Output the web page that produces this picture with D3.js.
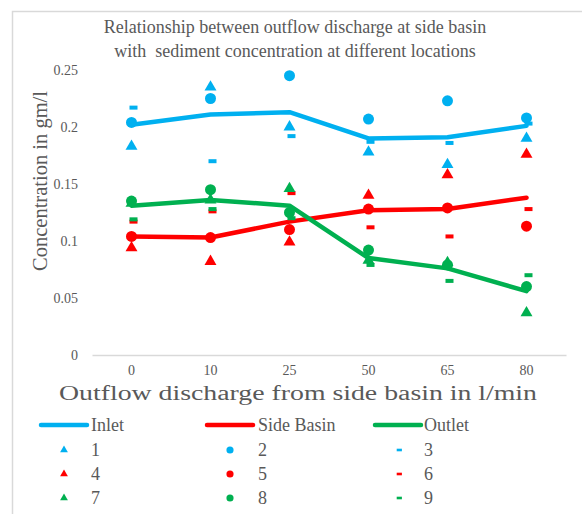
<!DOCTYPE html>
<html><head><meta charset="utf-8">
<script src="https://cdn.jsdelivr.net/npm/d3@7"></script>
<style>
body{margin:0;background:#fff;}
text{font-family:"Liberation Serif","Times New Roman",serif;fill:#595959;}
</style></head>
<body><svg id="c" width="582" height="514"></svg>
<script>
const categories = ["0","10","25","50","65","80"];
const inlet = [0.202, 0.211, 0.213, 0.190, 0.191, 0.201];
const sideBasin = [0.104, 0.103, 0.117, 0.127, 0.128, 0.138];
const outlet = [0.131, 0.136, 0.131, 0.085, 0.076, 0.056];
const s1 = [0.183, 0.235, 0.200, 0.178, 0.167, 0.190];
const s2 = [0.204, 0.225, 0.245, 0.207, 0.223, 0.208];
const s3 = [0.217, 0.170, 0.192, 0.187, 0.186, 0.203];
const s4 = [0.094, 0.082, 0.099, 0.140, 0.158, 0.176];
const s5 = [0.104, 0.103, 0.110, 0.128, 0.129, 0.113];
const s6 = [0.117, 0.126, 0.142, 0.112, 0.104, 0.128];
const s7 = [0.133, 0.136, 0.146, 0.083, 0.081, 0.037];
const s8 = [0.135, 0.145, 0.125, 0.092, 0.079, 0.060];
const s9 = [0.119, 0.128, 0.120, 0.079, 0.065, 0.070];
const yTicks = [0, 0.05, 0.1, 0.15, 0.2, 0.25];
const yTickLabels = ["0", "0.05", "0.1", "0.15", "0.2", "0.25"];
const titleLines = ["Relationship between outflow discharge at side basin", "with  sediment concentration at different locations"];
const xTitle = "Outflow discharge from side basin in l/min";
const yTitle = "Concentration in gm/l";

const BLUE = "#00B0F0", RED = "#FF0000", GREEN = "#00B050";
const lineSeries = [
  {name: "Inlet", values: inlet, color: BLUE},
  {name: "Side Basin", values: sideBasin, color: RED},
  {name: "Outlet", values: outlet, color: GREEN}
];
const markerSeries = [
  {name: "1", values: s1, color: BLUE, shape: "tri"},
  {name: "2", values: s2, color: BLUE, shape: "circ"},
  {name: "3", values: s3, color: BLUE, shape: "dash"},
  {name: "4", values: s4, color: RED, shape: "tri"},
  {name: "5", values: s5, color: RED, shape: "circ"},
  {name: "6", values: s6, color: RED, shape: "dash"},
  {name: "7", values: s7, color: GREEN, shape: "tri"},
  {name: "8", values: s8, color: GREEN, shape: "circ"},
  {name: "9", values: s9, color: GREEN, shape: "dash"}
];

const svg = d3.select("#c");
svg.append("rect").attr("x",0).attr("y",0).attr("width",582).attr("height",514).attr("fill","#fff");
svg.append("rect").attr("x",12.5).attr("y",11.5).attr("width",600).attr("height",600)
  .attr("fill","none").attr("stroke","#d9d9d9").attr("stroke-width",1.5);

const x = d3.scaleBand().domain(categories).range([92, 566]);
const y = d3.scaleLinear().domain([0, 0.25]).range([355, 70]);
const cx = c => x(c) + x.bandwidth()/2;

// title
const t = svg.append("text").attr("text-anchor","middle").style("font-size","18px");
titleLines.forEach((l,i)=>t.append("tspan").attr("x",295).attr("y",33 + i*24).attr("xml:space","preserve").text(l));

// y axis
const ya = svg.append("g").attr("transform","translate(92,0)")
  .call(d3.axisLeft(y).tickValues(yTicks).tickSize(0).tickPadding(14).tickFormat((d,i)=>yTickLabels[i]));
ya.select(".domain").remove();
ya.selectAll("text").style("font-size","14px").style("font-family","Liberation Serif").attr("fill","#595959");

// x axis
const xa = svg.append("g").attr("transform","translate(0,355)")
  .call(d3.axisBottom(x).tickSize(0).tickPadding(10));
xa.select(".domain").attr("stroke","#d9d9d9").attr("stroke-width",1.5);
xa.selectAll("text").style("font-size","14px").style("font-family","Liberation Serif").attr("fill","#595959");

// axis titles
svg.append("text").attr("x",298).attr("y",400).attr("text-anchor","middle").style("font-size","20px")
  .attr("textLength",478).attr("lengthAdjust","spacingAndGlyphs").text(xTitle);
svg.append("text").attr("transform","translate(47,181) rotate(-90)").attr("text-anchor","middle").style("font-size","20.5px").text(yTitle);

// lines
const line = d3.line().x((d,i)=>cx(categories[i])).y(d=>y(d));
lineSeries.forEach(s=>{
  svg.append("path").datum(s.values).attr("d",line).attr("fill","none")
    .attr("stroke",s.color).attr("stroke-width",4.5).attr("stroke-linejoin","round").attr("stroke-linecap","round");
});

function drawMarker(g, shape, px, py, color, scale){
  if(shape==="tri"){
    g.append("path").attr("d", d3.symbol(d3.symbolTriangle, 62*scale*scale)()).attr("transform",`translate(${px},${py})`).attr("fill",color);
  } else if(shape==="circ"){
    g.append("path").attr("d", d3.symbol(d3.symbolCircle, 95*scale*scale)()).attr("transform",`translate(${px},${py})`).attr("fill",color);
  } else {
    const w = 8*scale, h = 4*scale;
    g.append("rect").attr("x",px - w/2 + 2*scale).attr("y",py - h/2).attr("width",w).attr("height",h).attr("fill",color);
  }
}
const mg = svg.append("g");
markerSeries.forEach(s=>{
  s.values.forEach((v,i)=>drawMarker(mg, s.shape, cx(categories[i]), y(v), s.color, 1));
});

// legend
const legX = [41, 207, 375];
const legTextX = [91, 258, 424];
const rowY = [425, 450, 474, 498];
const lg = svg.append("g");
lineSeries.forEach((s,i)=>{
  lg.append("line").attr("x1",legX[i]).attr("x2",legX[i]+46).attr("y1",rowY[0]).attr("y2",rowY[0])
    .attr("stroke",s.color).attr("stroke-width",4.5).attr("stroke-linecap","round");
  lg.append("text").attr("x",legTextX[i]).attr("y",rowY[0]).attr("dy","0.35em").style("font-size","18px").text(s.name);
});
markerSeries.forEach((s,k)=>{
  const col = k%3, row = Math.floor(k/3)+1;
  drawMarker(lg, s.shape, legX[col]+23, rowY[row], s.color, 0.65);
  lg.append("text").attr("x",legTextX[col]).attr("y",rowY[row]).attr("dy","0.35em").style("font-size","18px").text(s.name);
});
</script></body></html>
